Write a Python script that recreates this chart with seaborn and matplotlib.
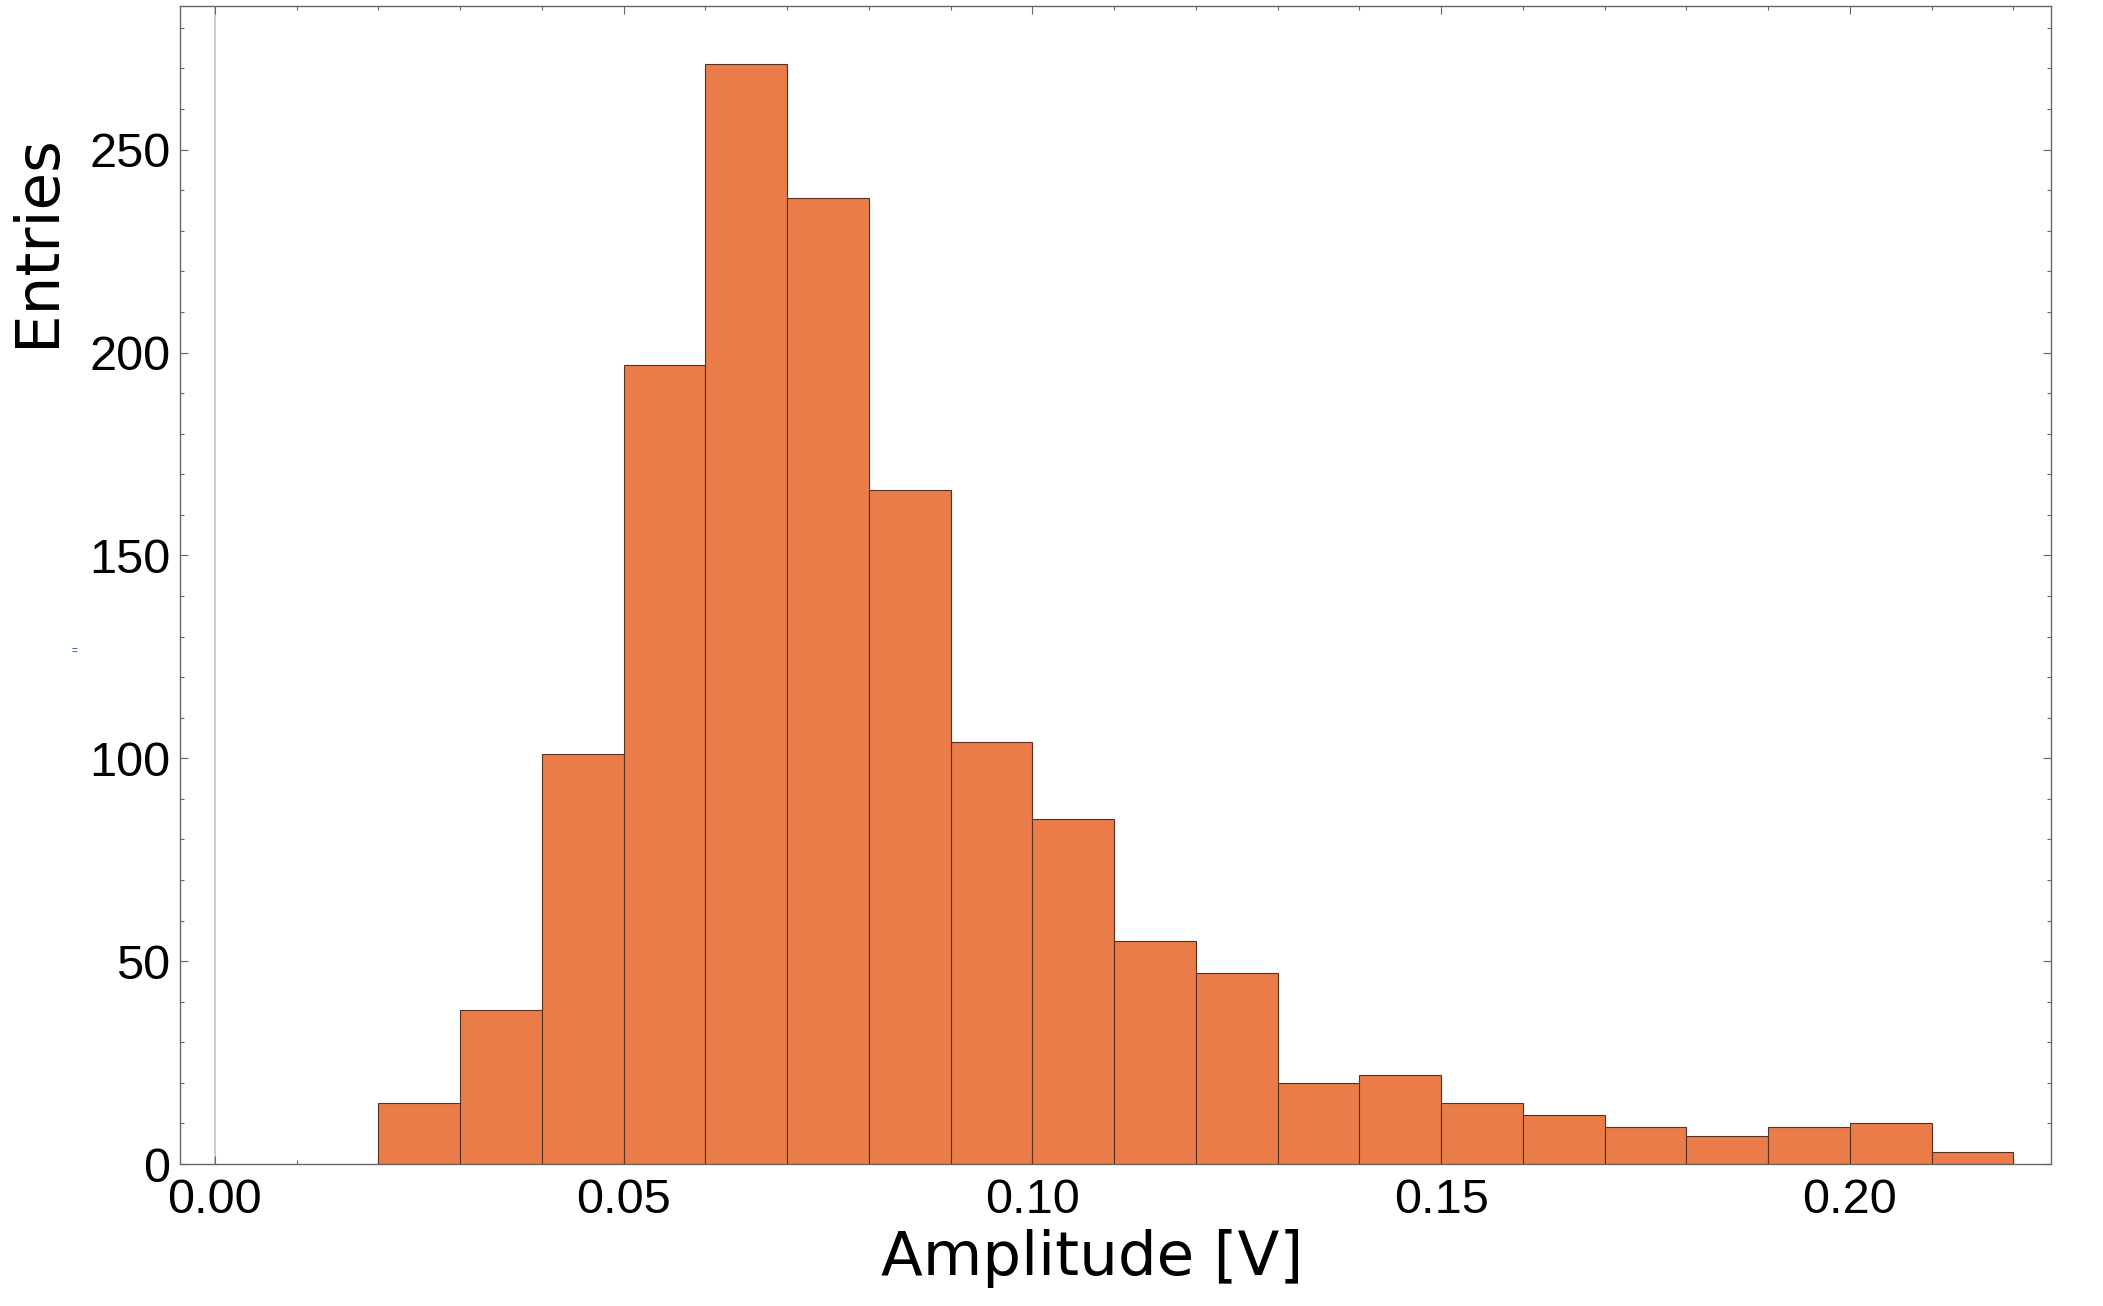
import numpy as np
import pandas as pd
import matplotlib
matplotlib.use("Agg")
import matplotlib.pyplot as plt
from matplotlib.ticker import MultipleLocator, FixedLocator
import seaborn as sns

# Histogram data (bin edges in volts, counts per bin)
bin_edges = [0.02, 0.03, 0.04, 0.05, 0.06, 0.07, 0.08, 0.09, 0.10, 0.11, 0.12,
             0.13, 0.14, 0.15, 0.16, 0.17, 0.18, 0.19, 0.20, 0.21, 0.22]
counts = [15, 38, 101, 197, 271, 238, 166, 104, 85, 55, 47,
          20, 22, 15, 12, 9, 7, 9, 10, 3]
x_ticks = [0.00, 0.05, 0.10, 0.15, 0.20]
x_tick_labels = ["0.00", "0.05", "0.10", "0.15", "0.20"]
y_ticks = [0, 50, 100, 150, 200, 250]

centers = [(a + b) / 2 for a, b in zip(bin_edges[:-1], bin_edges[1:])]
df = pd.DataFrame({"amplitude": centers, "entries": counts})

sns.set_style("ticks")
plt.rcParams["font.family"] = ["Liberation Sans", "DejaVu Sans"]
plt.rcParams["text.color"] = "black"
plt.rcParams["xtick.labelcolor"] = "black"
plt.rcParams["ytick.labelcolor"] = "black"
plt.rcParams["axes.labelcolor"] = "black"

fig = plt.figure(figsize=(21.03, 13.06), dpi=100)
ax = fig.add_axes([180 / 2103, 1 - 1164 / 1306, (2051 - 180) / 2103, (1164 - 6) / 1306])

sns.histplot(data=df, x="amplitude", weights="entries", bins=bin_edges,
             color="#E97C48", edgecolor="#5A3020", linewidth=0.8, alpha=1.0, ax=ax)

ax.axvline(0.0, color="#C8C8C8", lw=1.3, zorder=0)

ax.set_xlim(-0.00426, 0.2246)
ax.set_ylim(0, 285.4)

ax.xaxis.set_major_locator(FixedLocator(x_ticks))
ax.set_xticklabels(x_tick_labels)
ax.xaxis.set_minor_locator(MultipleLocator(0.01))
ax.yaxis.set_major_locator(FixedLocator(y_ticks))
ax.yaxis.set_minor_locator(MultipleLocator(10))

spine_c = "#666666"
for s in ax.spines.values():
    s.set_color(spine_c)
    s.set_linewidth(1.0)
    s.set_visible(True)

ax.tick_params(which="both", direction="in", top=True, right=True, color=spine_c, width=0.8)
ax.tick_params(which="major", length=5.5)
ax.tick_params(which="minor", length=3)
ax.tick_params(axis="both", which="major", labelcolor="black")
ax.tick_params(axis="x", which="major", labelsize=35, pad=10)
ax.tick_params(axis="y", which="major", labelsize=35, pad=7)

ax.set_xlabel("Amplitude [V]", fontsize=44, family="DejaVu Sans", color="black")
ax.set_ylabel("Entries", fontsize=44, family="DejaVu Sans", color="black")
ax.xaxis.set_label_coords((1092 - 180) / 1871, (1164 - 1258) / 1158)
ax.xaxis.label.set_va("center")
ax.yaxis.set_label_coords((38 - 180) / 1871, (1164 - 241) / 1158)
ax.yaxis.label.set_va("center")

# small rendering artifact in the reference
fig.text(74 / 2103, 1 - 651 / 1306, "=", color="#3F6FA5", fontsize=7, fontweight="bold",
         ha="center", va="center")

fig.savefig("out.png", dpi=100)
